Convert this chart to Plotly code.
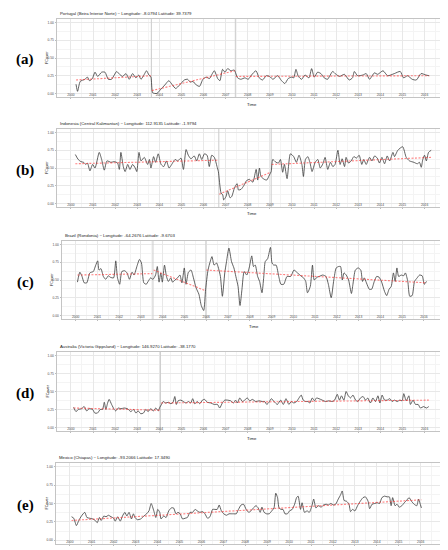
import plotly.graph_objects as go

OUTPUT_FILE = "out.html"
W, H = 448, 550

# ---------------- data ----------------
# (a) Portugal
PT_T = [2000.23, 2000.30, 2000.42, 2000.63, 2000.75, 2000.84, 2000.97, 2001.09, 2001.21, 2001.39,
        2001.54, 2001.69, 2001.84, 2001.96, 2002.07, 2002.20, 2002.34, 2002.49, 2002.64, 2002.79,
        2002.94, 2003.06, 2003.17, 2003.32, 2003.42, 2003.53, 2003.62, 2003.70, 2003.89, 2004.04,
        2004.25, 2004.43, 2004.59, 2004.74, 2004.92, 2005.13, 2005.28, 2005.40, 2005.52, 2005.67,
        2005.82, 2005.97, 2006.12, 2006.27, 2006.38, 2006.49, 2006.64, 2006.74, 2006.86, 2006.97,
        2007.09, 2007.24, 2007.39, 2007.54, 2007.69, 2007.87, 2008.02, 2008.17, 2008.37, 2008.52,
        2008.67, 2008.84, 2008.99, 2009.14, 2009.35, 2009.53, 2009.68, 2009.83, 2009.98, 2010.08,
        2010.18, 2010.29, 2010.44, 2010.59, 2010.77, 2010.89, 2011.01, 2011.16, 2011.31, 2011.46,
        2011.61, 2011.84, 2011.99, 2012.16, 2012.37, 2012.59, 2012.74, 2012.82, 2012.97, 2013.21,
        2013.36, 2013.51, 2013.73, 2013.88, 2014.12, 2014.33, 2014.63, 2014.90, 2015.05, 2015.23,
        2015.44, 2015.63, 2015.84, 2016.06, 2016.21]
PT_V = [0.13, 0.03, 0.17, 0.20, 0.23, 0.18, 0.21, 0.30, 0.24, 0.30,
        0.30, 0.20, 0.20, 0.26, 0.31, 0.27, 0.24, 0.28, 0.20, 0.28,
        0.22, 0.26, 0.20, 0.27, 0.32, 0.26, 0.23, 0.01, 0.00, 0.05,
        0.12, 0.18, 0.12, 0.07, 0.12, 0.19, 0.20, 0.16, 0.17, 0.12,
        0.10, 0.20, 0.23, 0.21, 0.27, 0.32, 0.21, 0.18, 0.34, 0.30,
        0.35, 0.32, 0.33, 0.22, 0.20, 0.22, 0.20, 0.26, 0.32, 0.22,
        0.19, 0.25, 0.24, 0.20, 0.25, 0.18, 0.14, 0.21, 0.23, 0.22,
        0.34, 0.24, 0.20, 0.26, 0.22, 0.35, 0.23, 0.30, 0.28, 0.22,
        0.20, 0.31, 0.27, 0.24, 0.27, 0.19, 0.22, 0.31, 0.25, 0.26,
        0.28, 0.20, 0.29, 0.27, 0.32, 0.25, 0.28, 0.31, 0.22, 0.25,
        0.20, 0.19, 0.28, 0.26, 0.25]
PT_SEG_T0 = [2000.23, 2003.66, 2007.46]
PT_SEG_T1 = [2003.62, 2007.42, 2016.21]
PT_SEG_V0 = [0.19, 0.04, 0.24]
PT_SEG_V1 = [0.25, 0.32, 0.25]
PT_BREAKS = [2003.64, 2007.44]

# (b) Indonesia
ID_T = [2000.20, 2000.33, 2000.45, 2000.57, 2000.68, 2000.75, 2000.86, 2000.98, 2001.09, 2001.28,
        2001.39, 2001.51, 2001.63, 2001.81, 2001.96, 2002.11, 2002.19, 2002.26, 2002.37, 2002.45,
        2002.57, 2002.67, 2002.79, 2002.91, 2002.98, 2003.08, 2003.17, 2003.32, 2003.47, 2003.55,
        2003.62, 2003.74, 2003.83, 2003.95, 2004.08, 2004.20, 2004.32, 2004.44, 2004.56, 2004.71,
        2004.83, 2004.98, 2005.09, 2005.21, 2005.31, 2005.43, 2005.58, 2005.69, 2005.81, 2005.92,
        2006.04, 2006.16, 2006.26, 2006.37, 2006.49, 2006.61, 2006.67, 2006.79, 2006.87, 2006.91,
        2007.02, 2007.09, 2007.20, 2007.28, 2007.40, 2007.52, 2007.58, 2007.70, 2007.82, 2007.94,
        2008.08, 2008.23, 2008.38, 2008.45, 2008.53, 2008.60, 2008.75, 2008.86, 2008.98, 2009.06,
        2009.13, 2009.28, 2009.39, 2009.48, 2009.58, 2009.66, 2009.78, 2009.93, 2010.08, 2010.20,
        2010.32, 2010.45, 2010.52, 2010.61, 2010.72, 2010.82, 2010.91, 2011.05, 2011.17, 2011.28,
        2011.40, 2011.50, 2011.62, 2011.74, 2011.85, 2011.95, 2012.08, 2012.18, 2012.27, 2012.38,
        2012.45, 2012.56, 2012.68, 2012.80, 2012.92, 2013.04, 2013.16, 2013.25, 2013.36, 2013.51,
        2013.62, 2013.74, 2013.86, 2013.96, 2014.07, 2014.19, 2014.31, 2014.42, 2014.57, 2014.64,
        2014.79, 2015.01, 2015.17, 2015.32, 2015.52, 2015.67, 2015.77, 2015.85, 2015.92, 2016.00,
        2016.08, 2016.18, 2016.30]
ID_V = [0.69, 0.62, 0.59, 0.58, 0.55, 0.57, 0.46, 0.55, 0.50, 0.72,
        0.62, 0.47, 0.60, 0.58, 0.59, 0.57, 0.48, 0.72, 0.52, 0.45,
        0.55, 0.48, 0.55, 0.50, 0.45, 0.72, 0.60, 0.65, 0.55, 0.62,
        0.50, 0.66, 0.58, 0.70, 0.55, 0.52, 0.60, 0.50, 0.55, 0.62,
        0.60, 0.64, 0.48, 0.76, 0.68, 0.63, 0.67, 0.60, 0.70, 0.62,
        0.70, 0.68, 0.52, 0.68, 0.65, 0.52, 0.45, 0.15, 0.12, 0.05,
        0.10, 0.18, 0.08, 0.10, 0.22, 0.28, 0.19, 0.20, 0.25, 0.32,
        0.34, 0.30, 0.48, 0.33, 0.50, 0.38, 0.34, 0.33, 0.40, 0.45,
        0.62, 0.58, 0.57, 0.62, 0.44, 0.55, 0.35, 0.70, 0.66, 0.58,
        0.68, 0.55, 0.38, 0.62, 0.66, 0.57, 0.45, 0.58, 0.62, 0.50,
        0.56, 0.65, 0.48, 0.58, 0.52, 0.55, 0.75, 0.55, 0.63, 0.52,
        0.65, 0.57, 0.60, 0.66, 0.64, 0.68, 0.55, 0.62, 0.55, 0.65,
        0.60, 0.67, 0.64, 0.57, 0.65, 0.56, 0.67, 0.60, 0.72, 0.66,
        0.75, 0.80, 0.65, 0.60, 0.58, 0.56, 0.58, 0.51, 0.62, 0.68,
        0.60, 0.72, 0.75]
ID_SEG_T0 = [2000.20, 2006.71, 2009.08]
ID_SEG_T1 = [2006.67, 2009.04, 2016.30]
ID_SEG_V0 = [0.56, 0.13, 0.55]
ID_SEG_V1 = [0.61, 0.44, 0.65]
ID_BREAKS = [2006.69, 2009.06]

# (c) Brazil
BR_T = [2000.08, 2000.19, 2000.29, 2000.39, 2000.51, 2000.65, 2000.81, 2000.91, 2001.01, 2001.07,
        2001.16, 2001.27, 2001.38, 2001.50, 2001.58, 2001.74, 2001.84, 2001.92, 2002.02, 2002.12,
        2002.25, 2002.36, 2002.47, 2002.59, 2002.68, 2002.82, 2002.93, 2003.02, 2003.13, 2003.24,
        2003.33, 2003.44, 2003.55, 2003.67, 2003.75, 2003.83, 2003.91, 2003.98, 2004.08, 2004.17,
        2004.26, 2004.37, 2004.45, 2004.56, 2004.68, 2004.79, 2004.88, 2004.99, 2005.07, 2005.18,
        2005.30, 2005.41, 2005.53, 2005.66, 2005.77, 2005.88, 2005.97, 2006.08, 2006.19, 2006.26,
        2006.36, 2006.47, 2006.54, 2006.65, 2006.74, 2006.85, 2006.93, 2007.04, 2007.16, 2007.27,
        2007.36, 2007.46, 2007.55, 2007.64, 2007.74, 2007.86, 2007.97, 2008.09, 2008.17, 2008.25,
        2008.36, 2008.45, 2008.56, 2008.64, 2008.71, 2008.82, 2008.95, 2009.02, 2009.10, 2009.21,
        2009.33, 2009.43, 2009.56, 2009.71, 2009.88, 2010.03, 2010.19, 2010.34, 2010.47, 2010.57,
        2010.65, 2010.78, 2010.88, 2010.96, 2011.09, 2011.19, 2011.35, 2011.50, 2011.61, 2011.74,
        2011.86, 2011.97, 2012.08, 2012.17, 2012.25, 2012.33, 2012.43, 2012.54, 2012.67, 2012.74,
        2012.85, 2012.98, 2013.10, 2013.18, 2013.26, 2013.36, 2013.49, 2013.60, 2013.72, 2013.83,
        2013.94, 2014.06, 2014.19, 2014.29, 2014.40, 2014.50, 2014.60, 2014.68, 2014.76, 2014.84,
        2014.96, 2015.07, 2015.15, 2015.26, 2015.35, 2015.46, 2015.57, 2015.69, 2015.80, 2015.92,
        2016.02, 2016.12]
BR_V = [0.47, 0.61, 0.55, 0.46, 0.46, 0.60, 0.62, 0.70, 0.77, 0.64,
        0.66, 0.55, 0.51, 0.56, 0.54, 0.53, 0.77, 0.53, 0.44, 0.62,
        0.63, 0.60, 0.51, 0.61, 0.57, 0.70, 0.79, 0.74, 0.46, 0.44,
        0.48, 0.53, 0.51, 0.57, 0.69, 0.47, 0.60, 0.47, 0.71, 0.55,
        0.48, 0.53, 0.47, 0.50, 0.53, 0.57, 0.46, 0.67, 0.44, 0.61,
        0.64, 0.53, 0.39, 0.30, 0.14, 0.07, 0.37, 0.64, 0.77, 0.83,
        0.71, 0.74, 0.69, 0.55, 0.27, 0.60, 0.76, 0.95, 0.76, 0.67,
        0.55, 0.41, 0.14, 0.37, 0.62, 0.57, 0.67, 0.84, 0.69, 0.71,
        0.55, 0.48, 0.32, 0.54, 0.76, 0.80, 0.96, 0.74, 0.71, 0.71,
        0.55, 0.44, 0.44, 0.55, 0.55, 0.64, 0.60, 0.56, 0.53, 0.48,
        0.32, 0.41, 0.71, 0.50, 0.54, 0.55, 0.57, 0.55, 0.44, 0.25,
        0.50, 0.67, 0.69, 0.69, 0.50, 0.60, 0.57, 0.50, 0.31, 0.44,
        0.64, 0.67, 0.64, 0.48, 0.53, 0.46, 0.37, 0.37, 0.48, 0.55,
        0.54, 0.47, 0.34, 0.28, 0.37, 0.41, 0.60, 0.48, 0.67, 0.55,
        0.57, 0.56, 0.60, 0.48, 0.27, 0.28, 0.48, 0.53, 0.57, 0.56,
        0.44, 0.48]
BR_SEG_T0 = [2000.08, 2003.58, 2006.00]
BR_SEG_T1 = [2003.52, 2005.96, 2016.12]
BR_SEG_V0 = [0.57, 0.64, 0.64]
BR_SEG_V1 = [0.59, 0.35, 0.46]
BR_BREAKS = [2003.55, 2005.98]

# (d) Australia
AU_T = [2000.12, 2000.23, 2000.33, 2000.48, 2000.60, 2000.71, 2000.83, 2000.98, 2001.08, 2001.20,
        2001.33, 2001.43, 2001.51, 2001.58, 2001.66, 2001.73, 2001.84, 2001.96, 2002.03, 2002.14,
        2002.26, 2002.41, 2002.56, 2002.71, 2002.83, 2002.94, 2003.04, 2003.16, 2003.28, 2003.39,
        2003.49, 2003.61, 2003.73, 2003.84, 2003.95, 2004.02, 2004.10, 2004.17, 2004.29, 2004.41,
        2004.52, 2004.62, 2004.70, 2004.77, 2004.85, 2004.97, 2005.09, 2005.20, 2005.32, 2005.42,
        2005.51, 2005.60, 2005.72, 2005.83, 2005.95, 2006.05, 2006.17, 2006.33, 2006.48, 2006.63,
        2006.73, 2006.85, 2006.96, 2007.08, 2007.23, 2007.35, 2007.45, 2007.53, 2007.64, 2007.76,
        2007.86, 2007.98, 2008.09, 2008.21, 2008.36, 2008.51, 2008.66, 2008.77, 2008.86, 2008.96,
        2009.07, 2009.19, 2009.34, 2009.49, 2009.61, 2009.73, 2009.86, 2009.97, 2010.09, 2010.21,
        2010.32, 2010.42, 2010.51, 2010.62, 2010.72, 2010.81, 2010.92, 2011.02, 2011.11, 2011.22,
        2011.37, 2011.52, 2011.67, 2011.82, 2011.93, 2012.05, 2012.15, 2012.24, 2012.35, 2012.45,
        2012.55, 2012.65, 2012.76, 2012.88, 2012.98, 2013.10, 2013.22, 2013.33, 2013.43, 2013.55,
        2013.66, 2013.78, 2013.89, 2013.98, 2014.08, 2014.19, 2014.31, 2014.43, 2014.53, 2014.64,
        2014.76, 2014.88, 2014.98, 2015.06, 2015.17, 2015.29, 2015.36, 2015.48, 2015.59, 2015.71,
        2015.81, 2015.96, 2016.08, 2016.19]
AU_V = [0.28, 0.22, 0.25, 0.26, 0.29, 0.23, 0.26, 0.25, 0.20, 0.20,
        0.25, 0.25, 0.35, 0.25, 0.34, 0.39, 0.32, 0.25, 0.23, 0.27,
        0.26, 0.27, 0.26, 0.22, 0.25, 0.20, 0.23, 0.19, 0.20, 0.25,
        0.22, 0.26, 0.23, 0.27, 0.23, 0.28, 0.32, 0.36, 0.34, 0.35,
        0.33, 0.35, 0.43, 0.32, 0.37, 0.38, 0.36, 0.34, 0.36, 0.34,
        0.40, 0.33, 0.36, 0.33, 0.38, 0.39, 0.35, 0.34, 0.32, 0.32,
        0.27, 0.34, 0.38, 0.38, 0.37, 0.34, 0.38, 0.34, 0.41, 0.36,
        0.38, 0.41, 0.37, 0.39, 0.36, 0.37, 0.36, 0.36, 0.32, 0.35,
        0.40, 0.36, 0.32, 0.38, 0.32, 0.40, 0.32, 0.36, 0.34, 0.36,
        0.41, 0.45, 0.38, 0.36, 0.36, 0.34, 0.41, 0.37, 0.41, 0.40,
        0.38, 0.36, 0.37, 0.36, 0.38, 0.46, 0.38, 0.44, 0.38, 0.50,
        0.44, 0.41, 0.45, 0.38, 0.36, 0.41, 0.43, 0.38, 0.41, 0.34,
        0.41, 0.36, 0.44, 0.34, 0.45, 0.38, 0.38, 0.40, 0.36, 0.38,
        0.36, 0.38, 0.37, 0.47, 0.37, 0.44, 0.32, 0.38, 0.32, 0.32,
        0.27, 0.29, 0.27, 0.29]
AU_SEG_T0 = [2000.12, 2004.08]
AU_SEG_T1 = [2004.02, 2016.19]
AU_SEG_V0 = [0.27, 0.34]
AU_SEG_V1 = [0.24, 0.38]
AU_BREAKS = [2004.05]

# (e) Mexico
MX_T = [2000.08, 2000.18, 2000.30, 2000.41, 2000.53, 2000.68, 2000.78, 2000.90, 2001.05, 2001.16,
        2001.25, 2001.35, 2001.43, 2001.55, 2001.65, 2001.76, 2001.88, 2002.00, 2002.07, 2002.18,
        2002.30, 2002.40, 2002.51, 2002.60, 2002.70, 2002.81, 2002.90, 2002.97, 2003.08, 2003.23,
        2003.38, 2003.50, 2003.61, 2003.71, 2003.83, 2003.92, 2004.01, 2004.10, 2004.16, 2004.28,
        2004.39, 2004.51, 2004.63, 2004.73, 2004.84, 2004.93, 2005.03, 2005.14, 2005.26, 2005.36,
        2005.48, 2005.60, 2005.71, 2005.81, 2005.93, 2006.05, 2006.16, 2006.28, 2006.39, 2006.51,
        2006.61, 2006.72, 2006.81, 2006.91, 2007.02, 2007.14, 2007.26, 2007.36, 2007.47, 2007.59,
        2007.69, 2007.81, 2007.92, 2008.04, 2008.16, 2008.26, 2008.37, 2008.49, 2008.59, 2008.68,
        2008.76, 2008.86, 2008.97, 2009.09, 2009.21, 2009.31, 2009.39, 2009.47, 2009.54, 2009.63,
        2009.72, 2009.81, 2009.92, 2010.02, 2010.14, 2010.25, 2010.34, 2010.41, 2010.52, 2010.59,
        2010.70, 2010.82, 2010.92, 2011.04, 2011.12, 2011.22, 2011.34, 2011.46, 2011.57, 2011.69,
        2011.79, 2011.90, 2012.02, 2012.12, 2012.24, 2012.35, 2012.42, 2012.51, 2012.62, 2012.73,
        2012.80, 2012.89, 2013.00, 2013.12, 2013.24, 2013.37, 2013.48, 2013.60, 2013.67, 2013.78,
        2013.90, 2014.02, 2014.12, 2014.23, 2014.35, 2014.47, 2014.57, 2014.65, 2014.72, 2014.83,
        2014.92, 2015.02, 2015.14, 2015.25, 2015.35, 2015.47, 2015.58, 2015.70, 2015.82, 2015.90,
        2015.96, 2016.03]
MX_V = [0.32, 0.30, 0.20, 0.27, 0.33, 0.38, 0.31, 0.30, 0.29, 0.27,
        0.24, 0.31, 0.27, 0.33, 0.32, 0.34, 0.32, 0.30, 0.26, 0.32,
        0.26, 0.33, 0.38, 0.33, 0.38, 0.29, 0.36, 0.31, 0.28, 0.29,
        0.33, 0.36, 0.40, 0.50, 0.40, 0.31, 0.42, 0.38, 0.29, 0.33,
        0.31, 0.40, 0.44, 0.44, 0.36, 0.38, 0.36, 0.29, 0.30, 0.31,
        0.38, 0.38, 0.42, 0.40, 0.38, 0.39, 0.36, 0.30, 0.32, 0.42,
        0.42, 0.42, 0.48, 0.40, 0.36, 0.34, 0.36, 0.36, 0.36, 0.36,
        0.42, 0.48, 0.49, 0.42, 0.38, 0.40, 0.44, 0.47, 0.44, 0.38,
        0.45, 0.38, 0.36, 0.36, 0.40, 0.44, 0.64, 0.58, 0.44, 0.42,
        0.42, 0.36, 0.36, 0.40, 0.42, 0.49, 0.58, 0.60, 0.42, 0.51,
        0.38, 0.40, 0.38, 0.47, 0.56, 0.44, 0.47, 0.45, 0.48, 0.49,
        0.48, 0.50, 0.48, 0.49, 0.56, 0.62, 0.67, 0.54, 0.53, 0.49,
        0.39, 0.42, 0.40, 0.47, 0.53, 0.58, 0.59, 0.53, 0.43, 0.49,
        0.50, 0.51, 0.50, 0.58, 0.60, 0.59, 0.59, 0.47, 0.58, 0.47,
        0.49, 0.45, 0.47, 0.51, 0.54, 0.58, 0.53, 0.49, 0.47, 0.56,
        0.51, 0.44]
MX_SEG_T0 = [2000.08]
MX_SEG_T1 = [2016.03]
MX_SEG_V0 = [0.27]
MX_SEG_V1 = [0.55]
MX_BREAKS = []

TITLES = [
    "Portugal (Beira Interior Norte) ~ Longitude: -8.0794 Latitude: 39.7379",
    "Indonesia (Central Kalimantan) ~ Longitude: 112.9135 Latitude: -1.9794",
    "Brazil (Rondonia) ~ Longitude: -64.2676 Latitude: -9.6703",
    "Australia (Victoria Gippsland) ~ Longitude: 146.9270 Latitude: -38.1770",
    "Mexico (Chiapas) ~ Longitude: -93.2066 Latitude: 17.3490",
]
LABELS = ["(a)", "(b)", "(c)", "(d)", "(e)"]
YEARS = list(range(2000, 2017))
Y_TICKS = [0.0, 0.25, 0.5, 0.75, 1.0]
Y_RANGE = [-0.05, 1.05]

# panel boxes in pixels: left, right, top, bottom
PANELS = [(49, 438, 11, 89), (49, 438, 121, 199), (54, 437, 233, 311),
          (49, 438, 344, 423), (48, 434, 455, 536)]

SERIES = [
    (PT_T, PT_V, PT_SEG_T0, PT_SEG_T1, PT_SEG_V0, PT_SEG_V1, PT_BREAKS),
    (ID_T, ID_V, ID_SEG_T0, ID_SEG_T1, ID_SEG_V0, ID_SEG_V1, ID_BREAKS),
    (BR_T, BR_V, BR_SEG_T0, BR_SEG_T1, BR_SEG_V0, BR_SEG_V1, BR_BREAKS),
    (AU_T, AU_V, AU_SEG_T0, AU_SEG_T1, AU_SEG_V0, AU_SEG_V1, AU_BREAKS),
    (MX_T, MX_V, MX_SEG_T0, MX_SEG_T1, MX_SEG_V0, MX_SEG_V1, MX_BREAKS),
]


def px(x):
    return x / W


def py(y):
    return 1 - y / H


def main():
    fig = go.Figure()
    annotations = []
    axes = {}

    for i, (t, v, t0, t1, v0, v1, breaks) in enumerate(SERIES):
        n = i + 1
        sx = "" if n == 1 else str(n)
        xa, ya = "x" + sx, "y" + sx
        left, right, top, bottom = PANELS[i]

        # breakpoint lines (drawn first so the series sits on top)
        if breaks:
            bx, by = [], []
            for b in breaks:
                bx += [b, b, None]
                by += [Y_RANGE[0], Y_RANGE[1], None]
            fig.add_trace(go.Scatter(x=bx, y=by, mode="lines", xaxis=xa, yaxis=ya,
                                     line=dict(color="#cfcfcf", width=1.1),
                                     showlegend=False, hoverinfo="skip"))

        # observed series
        fig.add_trace(go.Scatter(x=t, y=v, mode="lines", xaxis=xa, yaxis=ya,
                                 line=dict(color="#3a3a3a", width=0.8, shape="spline", smoothing=0.6),
                                 showlegend=False, hoverinfo="skip"))

        # piecewise trend segments
        tx, ty = [], []
        for a0, a1, b0, b1 in zip(t0, t1, v0, v1):
            tx += [a0, a1, None]
            ty += [b0, b1, None]
        fig.add_trace(go.Scatter(x=tx, y=ty, mode="lines", xaxis=xa, yaxis=ya,
                                 line=dict(color="rgba(255,60,60,0.65)", width=1.1, dash="2px,1.5px"),
                                 showlegend=False, hoverinfo="skip"))

        axes["xaxis" + sx] = dict(
            domain=[px(left), px(right)], anchor=ya, range=[1999.37, 2016.97],
            tickmode="array", tickvals=YEARS, ticktext=[str(y) for y in YEARS],
            tickfont=dict(size=3.3, color="#4d4d4d"), ticks="outside", ticklen=1.5,
            tickcolor="#bbbbbb", tickwidth=0.5, ticklabelstandoff=-7,
            showgrid=True, gridcolor="#e8e8e8", gridwidth=0.5,
            minor=dict(showgrid=True, tickmode="array", tickvals=[y + 0.5 for y in YEARS],
                       gridcolor="#f4f4f4", gridwidth=0.3),
            showline=True, mirror=True, linecolor="#c4c4c4", linewidth=0.8,
            zeroline=False, fixedrange=True,
        )
        axes["yaxis" + sx] = dict(
            domain=[py(bottom), py(top)], anchor=xa, range=Y_RANGE,
            tickmode="array", tickvals=Y_TICKS, ticktext=["0.00", "0.25", "0.50", "0.75", "1.00"],
            tickfont=dict(size=3.3, color="#4d4d4d"), ticks="outside", ticklen=1.5,
            tickcolor="#bbbbbb", tickwidth=0.5,
            showgrid=True, gridcolor="#e8e8e8", gridwidth=0.5,
            minor=dict(showgrid=True, tickmode="array", tickvals=[0.125, 0.375, 0.625, 0.875],
                       gridcolor="#f4f4f4", gridwidth=0.3),
            showline=True, mirror=True, linecolor="#c4c4c4", linewidth=0.8,
            zeroline=False, fixedrange=True,
        )

        # panel title, axis titles, panel letter
        annotations.append(dict(text=TITLES[i], xref="paper", yref="paper", x=px(left + 1),
                                y=py(top - 5.5), xanchor="left", yanchor="middle", showarrow=False,
                                font=dict(size=4.3, color="#222222")))
        annotations.append(dict(text="Time", xref="paper", yref="paper", x=px((left + right) / 2),
                                y=py(bottom + 7), xanchor="center", yanchor="middle", showarrow=False,
                                font=dict(size=4.3, color="#222222")))
        annotations.append(dict(text="FCover", xref="paper", yref="paper", x=px(left - 10),
                                y=py((top + bottom) / 2), xanchor="center", yanchor="middle",
                                textangle=-90, showarrow=False, font=dict(size=3.8, color="#222222")))
        annotations.append(dict(text="<b>" + LABELS[i] + "</b>", xref="paper", yref="paper",
                                x=px(17), y=py((top + bottom) / 2 + 2), xanchor="center",
                                yanchor="middle", showarrow=False,
                                font=dict(size=15, family="Liberation Serif", color="#000000")))

    fig.update_layout(
        width=W, height=H,
        margin=dict(l=0, r=0, t=0, b=0),
        paper_bgcolor="white", plot_bgcolor="white",
        font=dict(family="Liberation Sans, Arial, sans-serif"),
        annotations=annotations,
        showlegend=False,
        **axes,
    )

    fig.write_html(OUTPUT_FILE)


if __name__ == "__main__":
    main()
